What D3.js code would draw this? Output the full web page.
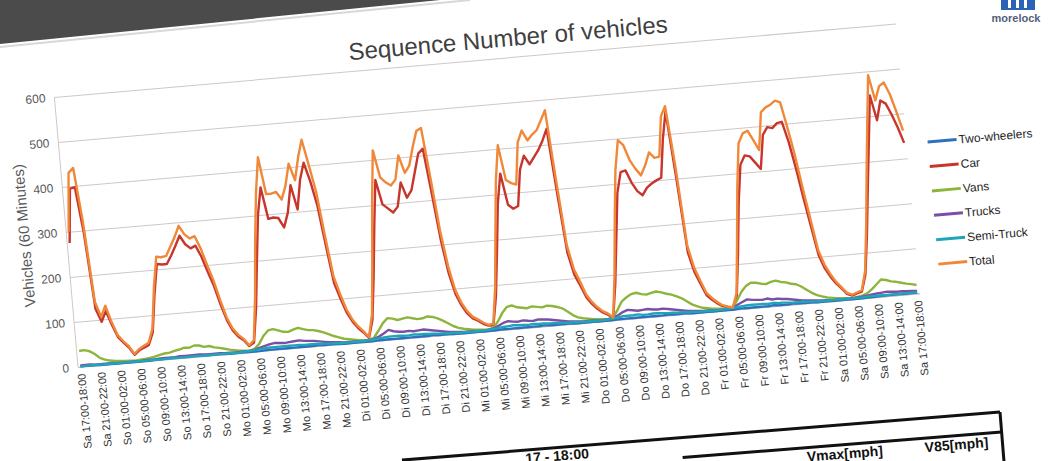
<!DOCTYPE html>
<html lang="de">
<head>
<meta charset="UTF-8">
<title>Sequence Number of vehicles</title>
<script src="https://cdn.jsdelivr.net/npm/d3@7"></script>
<style>
  body { margin: 0; background: #fff; }
  svg text { font-family: "Liberation Sans", Arial, sans-serif; }
</style>
</head>
<body>
<script>
// shown category labels (every 4th hour, Sa 17:00 .. Sa 17:00)
var tickLabels = ["Sa 17:00-18:00","Sa 21:00-22:00","So 01:00-02:00","So 05:00-06:00","So 09:00-10:00","So 13:00-14:00","So 17:00-18:00","So 21:00-22:00",
  "Mo 01:00-02:00","Mo 05:00-06:00","Mo 09:00-10:00","Mo 13:00-14:00","Mo 17:00-18:00","Mo 21:00-22:00",
  "Di 01:00-02:00","Di 05:00-06:00","Di 09:00-10:00","Di 13:00-14:00","Di 17:00-18:00","Di 21:00-22:00",
  "Mi 01:00-02:00","Mi 05:00-06:00","Mi 09:00-10:00","Mi 13:00-14:00","Mi 17:00-18:00","Mi 21:00-22:00",
  "Do 01:00-02:00","Do 05:00-06:00","Do 09:00-10:00","Do 13:00-14:00","Do 17:00-18:00","Do 21:00-22:00",
  "Fr 01:00-02:00","Fr 05:00-06:00","Fr 09:00-10:00","Fr 13:00-14:00","Fr 17:00-18:00","Fr 21:00-22:00",
  "Sa 01:00-02:00","Sa 05:00-06:00","Sa 09:00-10:00","Sa 13:00-14:00","Sa 17:00-18:00"];
var yTicks = [0,100,200,300,400,500,600];
var seriesNames = ["Two-wheelers","Car","Vans","Trucks","Semi-Truck","Total"];
var colors = ["#2e6fbf","#c8352c","#8db53c","#7b4fa6","#1fa5b8","#f0883a"];

// hourly values, 169 points each
var twoWheelers = [1,1,1,1,0,0,0,
  0,0,0,0,0,0,0,0,1,1,1,2,2,2,2,2,2,2,1,1,1,1,0,0,
  0,0,0,0,0,0,1,1,1,1,1,1,1,1,1,1,1,2,1,1,1,0,0,0,
  0,0,0,0,0,1,1,1,1,1,1,1,1,1,1,1,2,1,1,1,0,0,0,0,
  0,0,0,0,0,1,1,1,1,1,1,1,1,1,2,1,1,1,1,1,0,0,0,0,
  0,0,0,0,0,1,1,1,1,1,1,1,1,1,1,2,1,1,1,1,0,0,0,0,
  0,0,0,0,0,1,1,1,1,1,1,1,2,1,1,1,2,1,1,1,1,0,0,0,
  0,0,0,0,0,0,0,1,1,1,2,2,2,2,2,2,2,2];
var car = [275,395,397,295,125,95,118,
  86,58,45,33,16,25,30,35,62,145,212,210,210,228,248,270,250,240,245,220,185,153,110,74,
  50,36,27,13,20,95,200,300,361,290,292,290,268,300,360,305,370,407,365,310,220,135,100,68,
  47,32,21,8,48,145,255,355,300,290,280,292,345,310,325,365,405,415,315,210,135,88,62,43,
  31,25,17,12,12,75,175,280,345,275,265,270,350,380,360,375,390,410,435,290,158,108,83,56,
  40,28,19,13,5,80,180,280,325,328,300,280,270,286,294,300,305,390,450,300,135,90,63,37,
  26,17,10,6,4,30,125,235,318,338,335,320,305,380,396,393,403,405,360,300,232,168,104,74,
  54,38,26,13,8,12,15,52,140,245,345,446,390,433,425,400,370,335];
var vans = [35,36,33,26,16,11,8,
  6,5,4,4,3,4,5,6,8,11,13,14,17,19,22,21,25,24,20,21,17,15,12,9,
  7,5,4,3,6,16,33,44,46,42,38,37,41,44,40,37,36,33,29,24,19,15,11,9,
  7,5,4,3,8,22,38,48,46,42,44,46,43,40,41,44,42,38,32,25,18,13,10,8,
  6,5,4,3,7,20,38,50,52,47,45,43,46,44,42,45,43,40,36,28,19,13,10,8,
  6,5,4,3,6,22,40,48,54,56,52,50,53,55,52,48,45,40,35,27,19,14,10,8,
  6,5,4,3,6,20,38,50,56,55,52,50,54,56,52,50,46,44,38,30,22,16,12,9,
  7,5,4,3,3,4,6,10,18,28,38,36,32,30,27,24,22,19];
var trucks = [3,3,3,2,2,2,2,
  2,1,1,1,1,1,2,2,2,3,3,3,3,4,4,4,4,4,3,3,3,3,2,2,
  2,2,2,2,4,7,10,13,15,14,13,14,15,16,14,13,12,10,8,6,5,4,3,3,
  3,2,2,3,5,9,15,22,18,16,15,16,14,15,16,14,12,10,8,6,5,4,3,3,
  3,2,2,3,5,10,15,18,16,15,17,15,14,16,15,14,12,10,8,6,5,4,3,3,
  3,2,2,3,5,10,16,20,18,16,17,18,16,15,16,14,12,10,8,6,5,4,3,3,
  3,2,2,3,5,10,15,20,18,17,16,18,15,16,14,13,11,9,7,6,5,4,3,3,
  2,2,2,2,2,3,4,5,7,8,9,10,9,8,8,7,7,6];
var semiTruck = [1,1,1,1,1,1,1,
  1,1,1,1,1,1,1,1,1,1,1,1,1,1,1,1,1,1,1,1,1,1,1,1,
  1,1,2,2,3,4,5,6,6,6,6,6,6,6,5,5,5,4,4,3,3,2,2,2,
  2,2,2,3,4,5,6,7,7,7,6,6,7,6,6,5,5,4,4,3,3,2,2,2,
  2,2,2,3,4,5,6,7,8,7,7,6,7,6,6,5,5,4,4,3,3,2,2,2,
  2,2,2,3,4,5,7,7,7,8,6,6,7,7,6,5,5,4,4,3,3,2,2,2,
  2,2,2,3,4,5,6,7,7,7,7,6,7,6,6,5,4,4,4,3,3,2,2,2,
  2,2,2,2,2,2,2,3,3,3,3,3,3,3,3,3,3,3];
var total = [300,430,440,320,140,106,130,
  92,62,48,36,18,28,34,40,70,160,228,226,228,248,268,292,272,262,266,238,200,165,120,80,
  55,40,30,15,25,120,245,350,428,345,345,348,330,360,408,370,420,458,400,340,240,150,110,75,
  52,36,24,10,60,180,310,421,360,348,340,352,405,365,380,420,455,461,350,232,150,97,68,48,
  35,28,20,14,15,95,215,330,408,330,322,318,410,436,413,425,434,455,476,320,175,120,92,62,
  45,32,22,16,6,100,220,330,396,384,350,330,314,335,363,350,352,440,462,330,150,100,70,42,
  30,20,12,8,5,36,150,270,366,387,392,370,347,430,440,445,453,448,392,330,255,185,115,82,
  60,42,29,15,10,14,18,60,160,275,385,491,434,465,472,445,405,362];

var series = [twoWheelers, car, vans, trucks, semiTruck, total];

var width = 1050, height = 461;
var plotW = 845, plotH = 271;

var svg = d3.select('body').append('svg').attr('width', width).attr('height', height);

svg.append('rect').attr('width', width).attr('height', height).attr('fill', '#ffffff');

// dark strip of the photo, top left
svg.append('polygon').attr('points', '0,0 440,0 0,44').attr('fill', '#4b4b4b');
svg.append('line').attr('x1', 0).attr('y1', 47).attr('x2', 470).attr('y2', 0)
  .attr('stroke', '#d8d8d8').attr('stroke-width', 2);

// logo top right
var logo = svg.append('g');
logo.append('rect').attr('x', 1001).attr('y', -4).attr('width', 34).attr('height', 14).attr('fill', '#2a62b8');
[1008, 1016, 1024].forEach(function(x) {
  logo.append('rect').attr('x', x).attr('y', -4).attr('width', 3).attr('height', 12).attr('fill', '#ffffff');
});
logo.append('text').attr('x', 1016).attr('y', 22).attr('text-anchor', 'middle')
  .attr('font-size', 11).attr('font-weight', 'bold').attr('fill', '#55607a').text('morelock');

// chart, photographed at a slight angle
var g = svg.append('g').attr('transform', 'translate(78,367) rotate(-5) translate(0,' + (-plotH) + ')');

var xScale = d3.scalePoint().domain(d3.range(total.length)).range([0, plotW]).padding(0.5);
var yScale = d3.scaleLinear().domain([0, 600]).range([plotH, 0]);

// gridlines + y labels
var yAxis = d3.axisLeft(yScale).tickValues(yTicks).tickSize(-plotW).tickPadding(9);
var yG = g.append('g').call(yAxis);
yG.select('.domain').remove();
yG.selectAll('line').attr('stroke', '#cfc8c8').attr('stroke-width', 1);
yG.selectAll('text').attr('font-size', 12).attr('fill', '#595959');

g.append('line').attr('x1', 0).attr('x2', 0).attr('y1', 0).attr('y2', plotH)
  .attr('stroke', '#cfc8c8');

// x axis
var xAxis = d3.axisBottom(xScale).tickValues(d3.range(0, total.length, 4))
  .tickFormat(function(i) { return tickLabels[i / 4]; }).tickSize(0);
var xG = g.append('g').attr('transform', 'translate(0,' + plotH + ')').call(xAxis);
xG.select('.domain').attr('stroke', '#bfbfbf');
xG.selectAll('text')
  .attr('transform', 'rotate(-90)')
  .attr('x', -7).attr('y', 0).attr('dy', '0.33em')
  .style('text-anchor', 'end')
  .attr('font-size', 11).attr('fill', '#333333');

// y title
g.append('text')
  .attr('transform', 'translate(-37,' + (plotH / 2) + ') rotate(-90)')
  .attr('text-anchor', 'middle').attr('font-size', 15).attr('fill', '#595959')
  .text('Vehicles (60 Minutes)');

// title
g.append('text').attr('x', 457).attr('y', plotH - 282)
  .attr('text-anchor', 'middle').attr('font-size', 24).attr('fill', '#404040')
  .text('Sequence Number of vehicles');

// lines
var line = d3.line()
  .x(function(d, i) { return xScale(i); })
  .y(function(d) { return yScale(d); });

g.selectAll('path.series').data(series).enter().append('path')
  .attr('class', 'series')
  .attr('d', line)
  .attr('fill', 'none')
  .attr('stroke', function(d, i) { return colors[i]; })
  .attr('stroke-width', 2.4)
  .attr('stroke-linejoin', 'round');

// legend
var legend = g.append('g').attr('transform', 'translate(866,' + (plotH - 150) + ')');
var items = legend.selectAll('g').data(seriesNames).enter().append('g')
  .attr('transform', function(d, i) { return 'translate(0,' + (i * 24.5) + ')'; });
items.append('line').attr('x1', 0).attr('x2', 29).attr('y1', 0).attr('y2', 0)
  .attr('stroke', function(d, i) { return colors[i]; }).attr('stroke-width', 3);
items.append('text').attr('x', 31).attr('y', 0).attr('dy', '0.35em')
  .attr('font-size', 12).attr('fill', '#1f1f1f').text(function(d) { return d; });

// table of the page below
var tbl = svg.append('g').attr('transform', 'translate(1000,412) rotate(-4.6)');
tbl.append('line').attr('x1', -600).attr('y1', 0).attr('x2', 0).attr('y2', 0).attr('stroke', '#111').attr('stroke-width', 3);
tbl.append('line').attr('x1', 0).attr('y1', 0).attr('x2', 0).attr('y2', 60).attr('stroke', '#111').attr('stroke-width', 3);
tbl.append('line').attr('x1', -320).attr('y1', 20).attr('x2', 0).attr('y2', 20).attr('stroke', '#111').attr('stroke-width', 3);
tbl.append('text').attr('x', -46).attr('y', 34).attr('text-anchor', 'middle').attr('font-size', 14)
  .attr('font-weight', 'bold').attr('fill', '#111').text('V85[mph]');
tbl.append('text').attr('x', -158).attr('y', 34).attr('text-anchor', 'middle').attr('font-size', 14)
  .attr('font-weight', 'bold').attr('fill', '#111').text('Vmax[mph]');
tbl.append('text').attr('x', -445).attr('y', 13).attr('text-anchor', 'middle').attr('font-size', 14)
  .attr('font-weight', 'bold').attr('fill', '#111').text('17 - 18:00');
</script>
</body>
</html>
